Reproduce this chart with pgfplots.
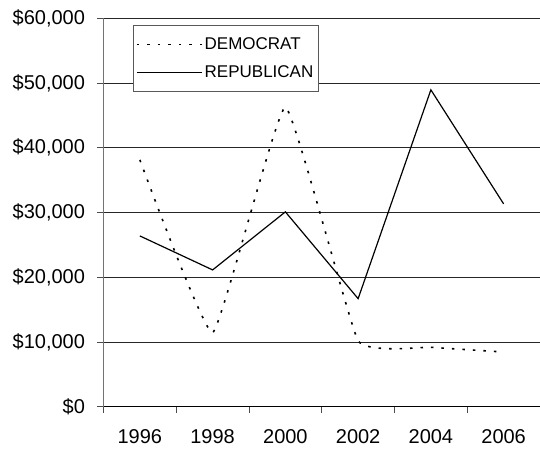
\documentclass[border=0pt]{standalone}
\usepackage{pgfplots}
\pgfplotsset{compat=1.18}
\usepackage{fontspec}
\setmainfont{Liberation Sans}
\begin{document}
\begin{tikzpicture}
\useasboundingbox (0bp,0bp) rectangle (540bp,449bp);
\begin{axis}[
  at={(103.5bp,42.3bp)}, anchor=south west,
  scale only axis, width=436.5bp, height=388.4bp,
  xmin=0, xmax=6, ymin=0, ymax=60000,
  scaled y ticks=false,
  axis x line*=bottom, axis y line*=left,
  x axis line style={black, line width=0.8bp},
  y axis line style={black!55, line width=0.8bp},
  xtick={0,...,6}, xticklabels={},
  extra x ticks={0.5,1.5,2.5,3.5,4.5,5.5},
  extra x tick labels={1996,1998,2000,2002,2004,2006},
  extra x tick style={major tick length=0pt, grid=none},
  ytick={0,10000,20000,30000,40000,50000,60000},
  yticklabels={\$0,{\$10,000},{\$20,000},{\$30,000},{\$40,000},{\$50,000},{\$60,000}},
  ymajorgrids, grid style={black!85, line width=0.8bp},
  tick align=outside, major tick length=6bp,
  tick style={black!70, line width=0.8bp},
  ticklabel style={font=\fontsize{20bp}{24bp}\selectfont},
  yticklabel style={anchor=east, xshift=-9bp},
  xticklabel style={anchor=north, yshift=-19bp},
  legend style={at={(0.0669,0.982)}, anchor=north west, draw=black!65, line width=0.8bp, fill=white,
    font=\fontsize{17bp}{20bp}\selectfont, inner xsep=3bp, inner ysep=10bp, row sep=11bp,
    nodes={inner sep=2bp}},
  legend cell align=left,
  legend image code/.code={\draw[#1] (0bp,0bp) -- (65bp,0bp);},
]
\addplot[black, line width=1.6bp, dash pattern=on 2.5bp off 8bp, smooth, tension=0.2]
  coordinates {(0.5,38130) (1.5,11440) (2.5,46270) (3.5,10200) (4.5,9180) (5.5,8450)};
\addlegendentry{DEMOCRAT}
\addplot[black, line width=1.2bp]
  coordinates {(0.5,26380) (1.5,21130) (2.5,30100) (3.5,16690) (4.5,48950) (5.5,31330)};
\addlegendentry{REPUBLICAN}
\end{axis}
\end{tikzpicture}
\end{document}
